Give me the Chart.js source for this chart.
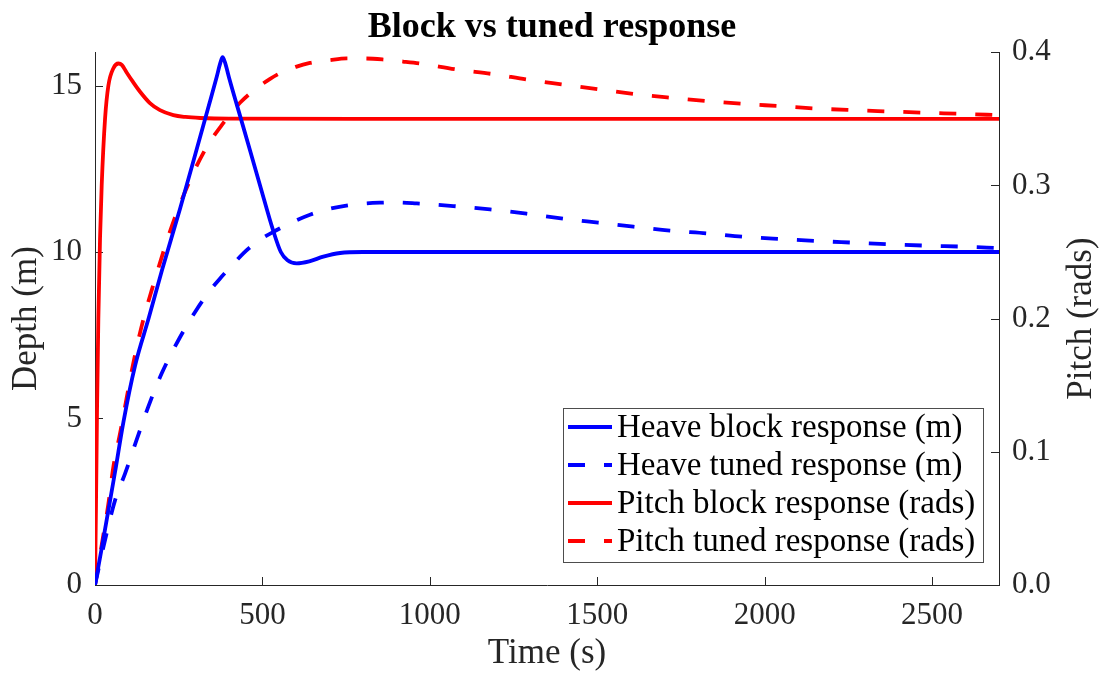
<!DOCTYPE html>
<html>
<head>
<meta charset="utf-8">
<title>Block vs tuned response</title>
<script src="https://cdn.jsdelivr.net/npm/chart.js@4.4.1/dist/chart.umd.min.js"></script>
<style>
  html, body { margin: 0; padding: 0; background: #ffffff; }
  #wrap { width: 1104px; height: 677px; }
</style>
</head>
<body>
<div id="wrap"><canvas id="c" width="1104" height="677"></canvas></div>
<script>
// Heave (depth, m) — block controller
const heaveBlockTime = [0, 20, 40, 60, 85, 120, 160, 200, 254, 300, 340, 362, 375, 381, 388, 400, 443, 493, 532, 555, 575, 602, 640, 682, 732, 800, 1000, 1500, 2000, 2700];
const heaveBlock     = [0, 1.1, 2.25, 3.4, 4.9, 6.6, 8.0, 9.45, 11.3, 12.95, 14.4, 15.2, 15.7, 15.85, 15.7, 15.25, 13.75, 12.0, 10.65, 10.0, 9.75, 9.66, 9.72, 9.86, 9.97, 10.0, 10.0, 10.0, 10.0, 10.0];

// Heave (depth, m) — tuned controller
const heaveTunedTime = [0, 30, 60, 90, 124, 159, 199, 249, 299, 340, 373, 410, 443, 490, 543, 590, 642, 700, 742, 800, 851, 900, 961, 1070, 1180, 1289, 1399, 1503, 1608, 1717, 1827, 1936, 2046, 2155, 2265, 2374, 2484, 2593, 2700];
const heaveTuned     = [0, 1.35, 2.55, 3.35, 4.35, 5.35, 6.35, 7.35, 8.2, 8.8, 9.2, 9.6, 9.96, 10.35, 10.66, 10.9, 11.12, 11.3, 11.38, 11.45, 11.48, 11.49, 11.46, 11.38, 11.28, 11.15, 11.0, 10.88, 10.76, 10.64, 10.56, 10.46, 10.39, 10.33, 10.28, 10.23, 10.19, 10.16, 10.12];

// Pitch (rads) — block controller
const pitchBlockTime = [0, 3, 6, 10, 15, 20, 30, 40, 55, 70, 80, 94, 114, 134, 164, 194, 234, 270, 314, 400, 1000, 2000, 2700];
const pitchBlock     = [0, 0.06, 0.13, 0.2, 0.26, 0.30, 0.35, 0.375, 0.388, 0.3915, 0.3905, 0.385, 0.3775, 0.3705, 0.3618, 0.3565, 0.3528, 0.3514, 0.3506, 0.3501, 0.35, 0.35, 0.35];

// Pitch (rads) — tuned controller
const pitchTunedTime = [0, 20, 40, 55, 75, 95, 114, 139, 169, 229, 284, 334, 378, 433, 483, 523, 543, 600, 642, 700, 752, 800, 861, 920, 971, 1080, 1190, 1289, 1399, 1508, 1613, 1722, 1832, 1936, 2046, 2155, 2265, 2374, 2484, 2593, 2700];
const pitchTuned     = [0, 0.03, 0.061, 0.089, 0.114, 0.141, 0.166, 0.194, 0.221, 0.269, 0.304, 0.329, 0.345, 0.362, 0.373, 0.380, 0.383, 0.389, 0.392, 0.394, 0.3953, 0.3953, 0.3945, 0.393, 0.3915, 0.387, 0.3835, 0.3795, 0.3757, 0.372, 0.3685, 0.3657, 0.3632, 0.3612, 0.3595, 0.3577, 0.3565, 0.3555, 0.3545, 0.3537, 0.3527];

// Axis ticks
const timeTicks  = [0, 500, 1000, 1500, 2000, 2500];
const depthTicks = [0, 5, 10, 15];
const pitchTicks = [0, 0.1, 0.2, 0.3, 0.4];

const SERIF = '"Liberation Serif", "Times New Roman", Times, serif';
const INK = '#262626';
const BLUE = '#0000ff';
const RED = '#ff0000';
const DASH = [17, 19];
const LINE_W = 3.8;
const TICK_LEN = 8;

const series = [
  { label: 'Heave block response (m)',    t: heaveBlockTime, v: heaveBlock, color: BLUE, dash: [],   axis: 'y'  },
  { label: 'Heave tuned response (m)',    t: heaveTunedTime, v: heaveTuned, color: BLUE, dash: DASH, axis: 'y'  },
  { label: 'Pitch block response (rads)', t: pitchBlockTime, v: pitchBlock, color: RED,  dash: [],   axis: 'y1' },
  { label: 'Pitch tuned response (rads)', t: pitchTunedTime, v: pitchTuned, color: RED,  dash: DASH, axis: 'y1' }
];

const datasets = series.map((s, i) => ({
  label: s.label,
  data: s.t.map((t, k) => ({ x: t, y: s.v[k] })),
  yAxisID: s.axis,
  borderColor: s.color,
  backgroundColor: s.color,
  borderWidth: LINE_W,
  borderDash: s.dash,
  borderCapStyle: 'butt',
  borderJoinStyle: 'round',
  pointRadius: 0,
  pointHoverRadius: 0,
  fill: false,
  cubicInterpolationMode: 'monotone',
  order: i
}));

function line(ctx, x1, y1, x2, y2) {
  ctx.beginPath(); ctx.moveTo(x1, y1); ctx.lineTo(x2, y2); ctx.stroke();
}

// Inward tick marks, rotated right-axis label and the boxed legend
const decor = {
  id: 'decor',
  beforeDatasetsDraw(chart) {
    const { ctx, chartArea: a, scales } = chart;
    ctx.save();
    ctx.strokeStyle = INK;
    ctx.lineWidth = 1;
    scales.x.ticks.forEach(t => {
      const px = Math.round(scales.x.getPixelForValue(t.value)) + 0.5;
      line(ctx, px, a.bottom, px, a.bottom - TICK_LEN);
    });
    scales.y.ticks.forEach(t => {
      const py = Math.round(scales.y.getPixelForValue(t.value)) + 0.5;
      line(ctx, a.left, py, a.left + TICK_LEN, py);
    });
    scales.y1.ticks.forEach(t => {
      const py = Math.round(scales.y1.getPixelForValue(t.value)) + 0.5;
      line(ctx, a.right, py, a.right - TICK_LEN, py);
    });
    ctx.restore();
  },
  afterDatasetsDraw(chart) {
    const { ctx, chartArea: a } = chart;
    ctx.save();

    // right axis title, reading bottom-to-top
    ctx.translate(1082, (a.top + a.bottom) / 2);
    ctx.rotate(-Math.PI / 2);
    ctx.font = '35px ' + SERIF;
    ctx.fillStyle = INK;
    ctx.textAlign = 'center';
    ctx.textBaseline = 'middle';
    ctx.fillText('Pitch (rads)', 0, 0);
    ctx.setTransform(1, 0, 0, 1, 0, 0);

    // legend box
    const box = { x: 563.5, y: 408.5, w: 420, h: 154 };
    ctx.fillStyle = '#ffffff';
    ctx.fillRect(box.x, box.y, box.w, box.h);
    ctx.strokeStyle = '#4d4d4d';
    ctx.lineWidth = 1;
    ctx.strokeRect(box.x, box.y, box.w, box.h);

    const rows = [427, 465, 503, 541];
    ctx.font = '33px ' + SERIF;
    ctx.textAlign = 'left';
    ctx.textBaseline = 'middle';
    chart.data.datasets.forEach((ds, i) => {
      const y = rows[i];
      ctx.strokeStyle = ds.borderColor;
      ctx.lineWidth = LINE_W;
      ctx.lineCap = 'butt';
      ctx.setLineDash(ds.borderDash || []);
      line(ctx, 568, y, 612, y);
      ctx.setLineDash([]);
      ctx.fillStyle = '#000000';
      ctx.fillText(ds.label, 617, y + 1);
    });
    ctx.restore();
  }
};

new Chart(document.getElementById('c'), {
  type: 'line',
  data: { datasets },
  options: {
    responsive: false,
    animation: false,
    devicePixelRatio: 1,
    layout: { padding: 0 },
    interaction: { mode: 'nearest', intersect: false },
    plugins: {
      legend: { display: false },
      tooltip: { enabled: false },
      title: {
        display: true,
        text: 'Block vs tuned response',
        color: '#000000',
        font: { family: SERIF, size: 36, weight: 'bold', lineHeight: 1.2 },
        padding: { top: 6, bottom: 3 }
      }
    },
    scales: {
      x: {
        type: 'linear',
        min: 0,
        max: 2700,
        afterBuildTicks: s => { s.ticks = timeTicks.map(v => ({ value: v })); },
        afterFit: s => { s.height = 92; },
        grid: { display: false, drawTicks: false },
        border: { display: true, color: INK, width: 1 },
        ticks: {
          color: INK,
          font: { family: SERIF, size: 31 },
          padding: 12,
          maxRotation: 0,
          autoSkip: false,
          callback: v => String(v)
        },
        title: {
          display: true,
          text: 'Time (s)',
          color: INK,
          font: { family: SERIF, size: 35, lineHeight: 1.2 },
          padding: { top: 0, bottom: 2 }
        }
      },
      y: {
        type: 'linear',
        position: 'left',
        min: 0,
        max: 16,
        afterBuildTicks: s => { s.ticks = depthTicks.map(v => ({ value: v })); },
        afterFit: s => { s.width = 95; },
        grid: { display: false, drawTicks: false },
        border: { display: true, color: INK, width: 1 },
        ticks: {
          color: INK,
          font: { family: SERIF, size: 31 },
          padding: 13,
          callback: v => String(v)
        },
        title: {
          display: true,
          text: 'Depth (m)',
          color: INK,
          font: { family: SERIF, size: 35, lineHeight: 1.2 },
          padding: { top: 6, bottom: 0 }
        }
      },
      y1: {
        type: 'linear',
        position: 'right',
        min: 0,
        max: 0.4,
        afterBuildTicks: s => { s.ticks = pitchTicks.map(v => ({ value: v })); },
        afterFit: s => { s.width = 105; },
        grid: { display: false, drawTicks: false },
        border: { display: true, color: INK, width: 1 },
        ticks: {
          color: INK,
          font: { family: SERIF, size: 31 },
          padding: 13,
          callback: v => v.toFixed(1)
        }
      }
    }
  },
  plugins: [decor]
});
</script>
</body>
</html>
